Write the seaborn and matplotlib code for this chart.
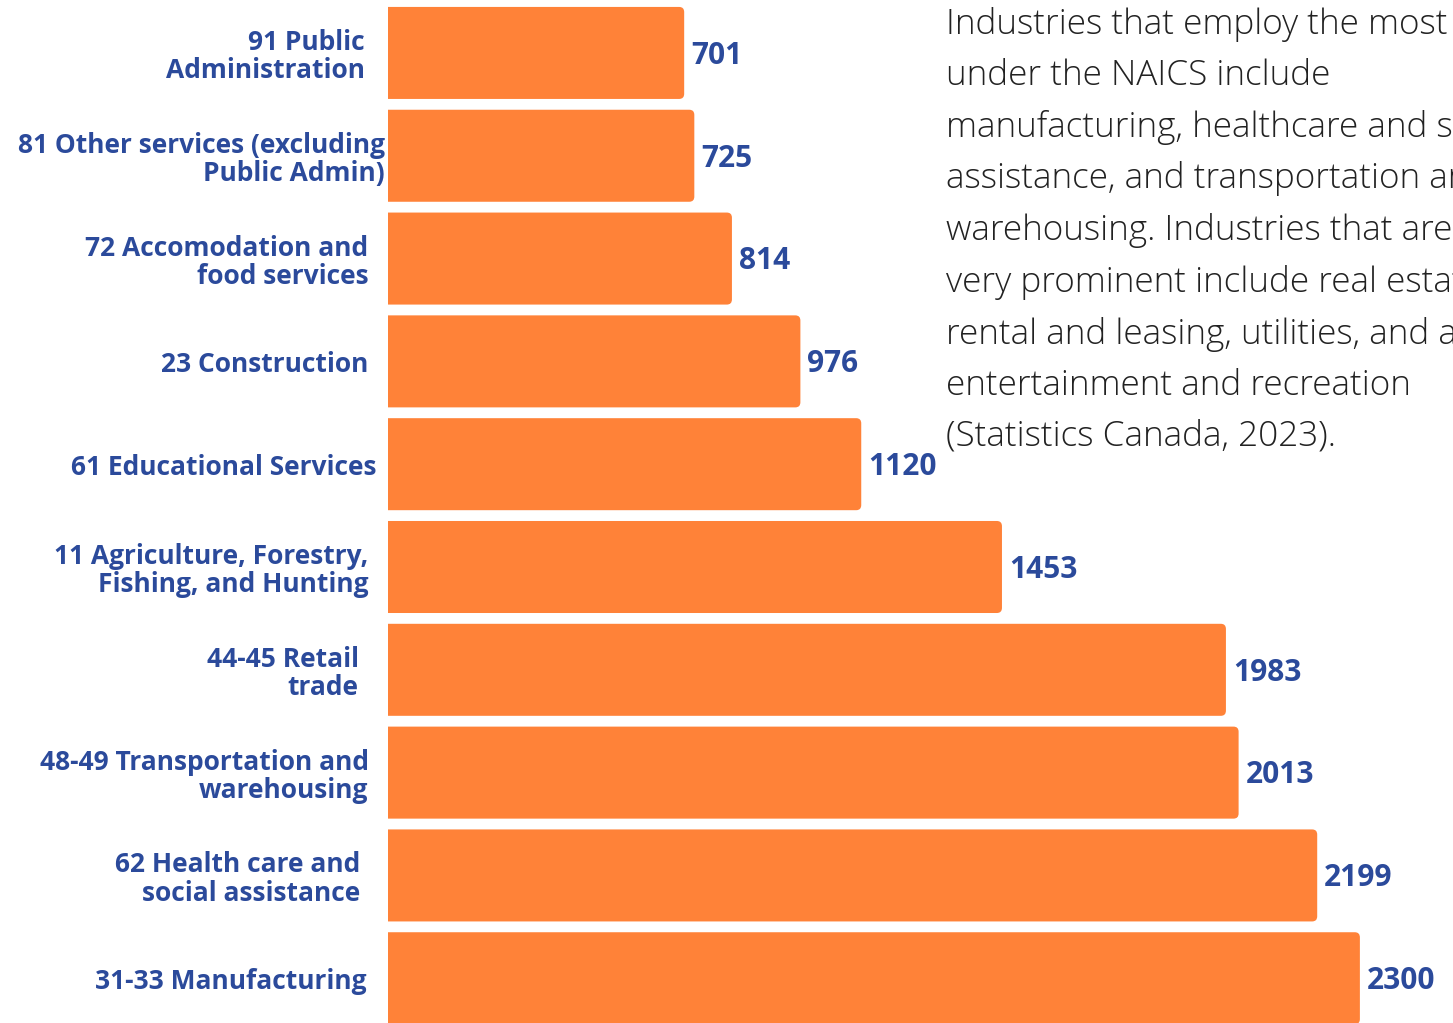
import numpy as np
import pandas as pd
import matplotlib
matplotlib.use("Agg")
import matplotlib.pyplot as plt
import matplotlib.transforms as mtrans
from matplotlib.patches import FancyBboxPatch
import seaborn as sns


# ---------------- DATA ----------------
industries = [
    "91 Public\nAdministration",
    "81 Other services (excluding\nPublic Admin)",
    "72 Accomodation and\nfood services",
    "23 Construction",
    "61 Educational Services",
    "11 Agriculture, Forestry,\nFishing, and Hunting",
    "44-45 Retail\ntrade",
    "48-49 Transportation and\nwarehousing",
    "62 Health care and\nsocial assistance",
    "31-33 Manufacturing",
]
employed = [701, 725, 814, 976, 1120, 1453, 1983, 2013, 2199, 2300]

# side note, runs past the right edge of the picture as in the original
note = ("Industries that employ the most\n"
        "under the NAICS include\n"
        "manufacturing, healthcare and social\n"
        "assistance, and transportation and\n"
        "warehousing. Industries that are not\n"
        "very prominent include real estate,\n"
        "rental and leasing, utilities, and arts,\n"
        "entertainment and recreation\n"
        "(Statistics Canada, 2023).")

# ---------------- STYLE ----------------
ORANGE = "#FF8238"
BLUE = "#2B4A9B"
TEXT = "#222222"

# small horizontal nudges of the category labels (px), to follow the original layout
label_shift_px = [-4, 16, 0, 0, 8, 0, -10, 0, -8, -2]

sns.set_theme(style="white")
plt.rcParams["font.family"] = ["Open Sans", "DejaVu Sans"]

df = pd.DataFrame({"industry": industries, "employed": employed})

fig = plt.figure(figsize=(14.53, 10.23), dpi=100)
ax = fig.add_axes([0.267, -0.0065, 0.698, 1.005])

sns.barplot(data=df, y="industry", x="employed", orient="h",
            color=ORANGE, saturation=1, width=0.895, ax=ax)

# rounded right corners (left end hidden behind the axes edge)
for p in list(ax.patches):
    x0, y0, w, h = p.get_x(), p.get_y(), p.get_width(), p.get_height()
    p.set_visible(False)
    ax.add_patch(FancyBboxPatch((x0 - 40, y0), w + 40, h,
                                boxstyle="round,pad=0,rounding_size=12",
                                mutation_aspect=0.0042,
                                facecolor=ORANGE, edgecolor="none"))

for i, v in enumerate(employed):
    ax.annotate(f"{v}", xy=(v, i), xytext=(5, -2), textcoords="offset points",
                ha="left", va="center", color=BLUE, fontsize=21.5,
                fontweight="bold")

ax.set_xlim(0, 2400)
ax.set_ylim(9.5, -0.5)
ax.set_xlabel("")
ax.set_ylabel("")
ax.set_xticks([])
ax.tick_params(axis="y", length=0, pad=14)
for lab, dx in zip(ax.get_yticklabels(), label_shift_px):
    lab.set_color(BLUE)
    lab.set_fontsize(19)
    lab.set_fontweight("bold")
    lab.set_linespacing(1.06)
    lab.set_transform(lab.get_transform() +
                      mtrans.ScaledTranslation(dx / 100, 0, fig.dpi_scale_trans))
sns.despine(ax=ax, left=True, bottom=True)

fig.text(946 / 1453, 1 - 7 / 1023, note, ha="left", va="top",
         fontsize=25.3, fontweight=300, color=TEXT, linespacing=1.62)

fig.savefig("out.png", dpi=100)
